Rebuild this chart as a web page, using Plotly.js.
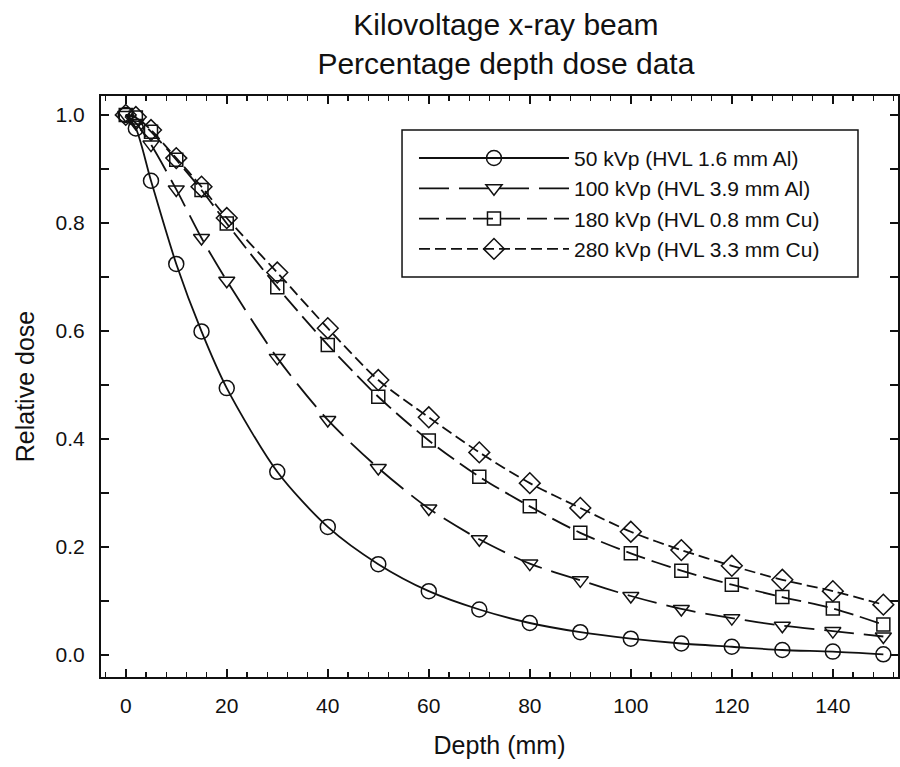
<!DOCTYPE html>
<html>
<head>
<meta charset="utf-8">
<script src="https://cdn.plot.ly/plotly-3.0.1.min.js"></script>
<style>html,body{margin:0;padding:0;background:#fff;}#chart{width:900px;height:767px;}</style>
</head>
<body>
<div id="chart"></div>
<script>
var depth = [0, 2, 5, 10, 15, 20, 30, 40, 50, 60, 70, 80, 90, 100, 110, 120, 130, 140, 150];
var kv50  = [1.0, 0.975, 0.878, 0.724, 0.599, 0.494, 0.339, 0.237, 0.168, 0.118, 0.084, 0.059, 0.042, 0.030, 0.021, 0.015, 0.009, 0.006, 0.001];
var kv100 = [1.0, 0.985, 0.945, 0.862, 0.772, 0.693, 0.550, 0.435, 0.346, 0.271, 0.214, 0.169, 0.138, 0.109, 0.085, 0.068, 0.054, 0.044, 0.034];
var kv180 = [1.0, 0.995, 0.969, 0.917, 0.861, 0.799, 0.681, 0.574, 0.478, 0.397, 0.330, 0.275, 0.226, 0.188, 0.156, 0.130, 0.107, 0.086, 0.056];
var kv280 = [1.0, 0.996, 0.972, 0.920, 0.867, 0.809, 0.708, 0.605, 0.509, 0.440, 0.375, 0.318, 0.272, 0.228, 0.194, 0.165, 0.139, 0.118, 0.093];
var seriesNames = ["50 kVp (HVL 1.6 mm Al)", "100 kVp (HVL 3.9 mm Al)", "180 kVp (HVL 0.8 mm Cu)", "280 kVp (HVL 3.3 mm Cu)"];
var seriesValues = [kv50, kv100, kv180, kv280];
var xTickVals = [0, 20, 40, 60, 80, 100, 120, 140];
var xTickText = ["0", "20", "40", "60", "80", "100", "120", "140"];
var yTickVals = [0, 0.2, 0.4, 0.6, 0.8, 1.0];
var yTickText = ["0.0", "0.2", "0.4", "0.6", "0.8", "1.0"];
var symbols = ["circle-open", "triangle-down-open", "square-open", "diamond-open"];
var markerSizes = [15, 14, 13, 16];
var dashes = ["solid", "30px,10px", "20px,7px", "11px,5px"];

var FONT = "Liberation Sans, Arial, sans-serif";
var INK = "#111";

var traces = seriesValues.map(function (vals, i) {
  return {
    x: depth, y: vals, name: seriesNames[i], type: "scatter", mode: "lines+markers",
    line: {color: INK, width: 1.8, dash: dashes[i], shape: "spline", smoothing: 0.8},
    marker: {symbol: symbols[i], size: markerSizes[i], color: INK, line: {width: 1.5, color: INK}}
  };
});

var layout = {
  width: 900, height: 767,
  paper_bgcolor: "#fff", plot_bgcolor: "#fff",
  margin: {l: 101, r: 2, t: 96, b: 90},
  font: {family: FONT, color: INK, size: 21},
  title: {
    text: "Kilovoltage x-ray beam<br>Percentage depth dose data",
    font: {family: FONT, size: 30, color: INK},
    x: 0.508, xref: "paper", xanchor: "center",
    y: 0.955, yref: "container", yanchor: "top"
  },
  xaxis: {
    range: [-4.9, 152.9], tickmode: "array", tickvals: xTickVals, ticktext: xTickText,
    ticks: "inside", ticklen: 8, tickwidth: 1.5, tickcolor: INK,
    minor: {dtick: 4, tick0: 0, ticks: "inside", ticklen: 5, tickwidth: 1.3, tickcolor: INK},
    showline: true, linecolor: INK, linewidth: 2, mirror: "ticks",
    showgrid: false, zeroline: false,
    tickfont: {family: FONT, size: 21, color: INK}, ticklabelstandoff: 9,
    title: {text: "Depth (mm)", font: {family: FONT, size: 25, color: INK}, standoff: 20}
  },
  yaxis: {
    range: [-0.041, 1.035], tickmode: "array", tickvals: yTickVals, ticktext: yTickText,
    ticks: "inside", ticklen: 8, tickwidth: 1.5, tickcolor: INK,
    minor: {dtick: 0.1, tick0: 0, ticks: "inside", ticklen: 8, tickwidth: 1.3, tickcolor: INK},
    showline: true, linecolor: INK, linewidth: 2, mirror: "ticks",
    showgrid: false, zeroline: false,
    tickfont: {family: FONT, size: 21, color: INK}, ticklabelstandoff: 10,
    title: {text: "Relative dose", font: {family: FONT, size: 25, color: INK}, standoff: 14}
  },
  shapes: [{
    type: "rect", xref: "paper", yref: "paper",
    x0: 0.3777, x1: 0.9498, y0: 0.6885, y1: 0.9415,
    line: {color: INK, width: 1.5}, fillcolor: "#fff", layer: "above"
  }],
  legend: {
    x: 0.3927, y: 0.928, xanchor: "left", yanchor: "top",
    bgcolor: "rgba(0,0,0,0)", borderwidth: 0,
    font: {family: FONT, size: 21, color: INK},
    itemwidth: 150, tracegroupgap: 0
  },
  showlegend: true
};

Plotly.newPlot("chart", traces, layout, {displayModeBar: false, staticPlot: true});
</script>
</body>
</html>
